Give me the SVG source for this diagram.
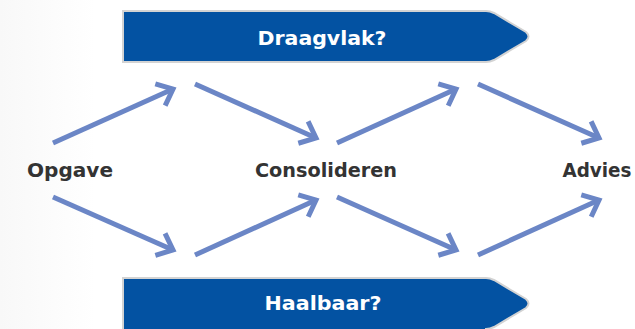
<svg xmlns="http://www.w3.org/2000/svg" width="635" height="329" viewBox="0 0 635 329">
  <defs>
    <linearGradient id="bg" x1="0" y1="0" x2="1" y2="0">
      <stop offset="0" stop-color="#f8f8f8"/>
      <stop offset="1" stop-color="#ffffff"/>
    </linearGradient>
    <marker id="ah" markerUnits="userSpaceOnUse" orient="auto" markerWidth="40" markerHeight="40" refX="0" refY="0" viewBox="-20 -20 40 40" overflow="visible">
      <path d="M-14,-12 L0,0 L-14,12" fill="none" stroke="#6b86c6" stroke-width="5"/>
    </marker>
    <style>
      .banner { fill: #0352a2; stroke: #d3d3d3; stroke-width: 2; }
      .btext { font-family: "DejaVu Sans", sans-serif; font-weight: bold; font-size: 19.5px; fill: #ffffff; text-anchor: middle; }
      .ntext { font-family: "DejaVu Sans", sans-serif; font-weight: bold; font-size: 19px; fill: #333333; text-anchor: middle; }
      .conn { fill: none; stroke: #6b86c6; stroke-width: 5; marker-end: url(#ah); }
    </style>
  </defs>
  <rect x="0" y="0" width="635" height="329" fill="#ffffff"/>
  <rect x="0" y="0" width="95" height="329" fill="url(#bg)"/>

  <g id="draagvlak">
    <path class="banner" d="M123,11 L486,11 Q490,11 494,13 L526,32 Q531,36.5 526,41 L494,60 Q490,62 486,62 L123,62 Z"/>
    <text class="btext" x="322" y="45" textLength="129" lengthAdjust="spacingAndGlyphs">Draagvlak?</text>
  </g>
  <g id="haalbaar">
    <path class="banner" d="M123,278 L486,278 Q490,278 494,280 L526,299 Q531,303.5 526,308 L494,327 Q490,329 486,329 L486,331 L123,331 Z"/>
    <text class="btext" x="323" y="310" textLength="117" lengthAdjust="spacingAndGlyphs">Haalbaar?</text>
  </g>
  <g id="opgave">
    <text class="ntext" x="70" y="177" textLength="86" lengthAdjust="spacingAndGlyphs">Opgave</text>
  </g>
  <g id="consolideren">
    <text class="ntext" x="326" y="177" textLength="142" lengthAdjust="spacingAndGlyphs">Consolideren</text>
  </g>
  <g id="advies">
    <text class="ntext" x="597" y="177" textLength="69" lengthAdjust="spacingAndGlyphs">Advies</text>
  </g>

  <g id="connectors">
    <path class="conn" d="M53,143 L173,89"/>
    <path class="conn" d="M195,84 L316,138"/>
    <path class="conn" d="M53,197 L173,250"/>
    <path class="conn" d="M195,255 L316,200"/>
    <path class="conn" d="M337,143 L456,89"/>
    <path class="conn" d="M478,84 L599,138"/>
    <path class="conn" d="M337,197 L456,250"/>
    <path class="conn" d="M478,255 L599,200"/>
  </g>
</svg>
